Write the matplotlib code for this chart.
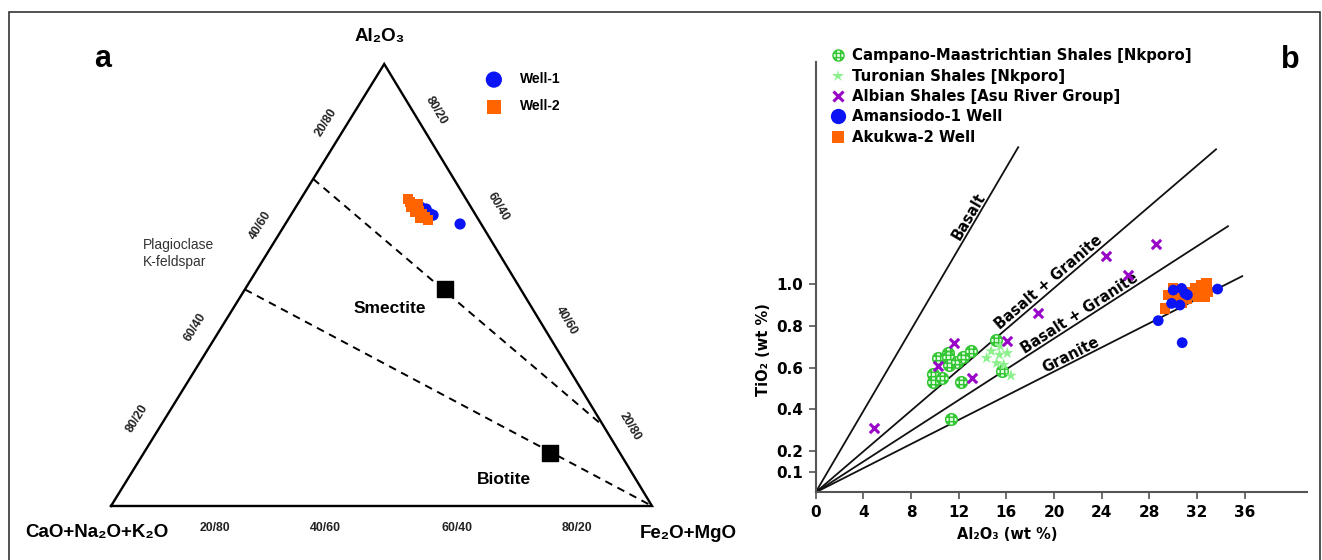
import numpy as np
import matplotlib.pyplot as plt
from matplotlib.lines import Line2D
from matplotlib.path import Path
from matplotlib.patches import Rectangle

plt.rcParams['font.family'] = ['DejaVu Sans']
ARIAL = ['Liberation Sans', 'DejaVu Sans']

# ---------------- panel a: ternary data (wt %) ----------------
# Al2O3 and Fe2O+MgO given, CaO+Na2O+K2O is the rest
well1_al = [65.8, 63.8, 67.2, 67.6, 66.1]
well1_fe = [26.3, 32.3, 24.3, 23.1, 25.6]
well2_al = [69.5, 68.8, 68.1, 67.6, 67.4, 66.7, 66.5, 66.1, 65.4, 64.7, 65.2, 68.3]
well2_fe = [19.8, 20.5, 21.4, 21.3, 22.3, 23.2, 22.6, 24.1, 25.0, 25.9, 24.2, 22.3]

mineral_names = ['Smectite', 'Biotite']
mineral_al = [49, 12]
mineral_fe = [37, 75]

# dashed tie lines (Al2O3, Fe2O+MgO) start -> end
tie_start_al = [74, 49]
tie_start_fe = [0, 0]
tie_end_al = [18, 0]
tie_end_fe = [82, 100]

edge_labels_left = ['20/80', '40/60', '60/40', '80/20']
edge_labels_right = ['80/20', '60/40', '40/60', '20/80']
edge_labels_bottom = ['20/80', '40/60', '60/40', '80/20']

# ---------------- panel b: TiO2 vs Al2O3 ----------------
campano_x = [10.24, 11.08, 11.13, 11.22, 11.83, 12.34, 13.04, 9.88, 9.88, 10.63, 12.17, 15.13, 15.61, 11.36]
campano_y = [0.648, 0.672, 0.650, 0.612, 0.625, 0.652, 0.680, 0.568, 0.532, 0.548, 0.529, 0.733, 0.584, 0.353]
turonian_x = [14.35, 14.74, 15.43, 16.09, 15.79, 15.19, 16.39, 15.49]
turonian_y = [0.646, 0.679, 0.662, 0.670, 0.614, 0.622, 0.562, 0.703]
albian_x = [4.9, 10.30, 11.61, 13.15, 16.03, 18.63, 24.4, 26.2, 28.6]
albian_y = [0.308, 0.608, 0.717, 0.548, 0.728, 0.864, 1.136, 1.047, 1.193]
amansiodo_x = [28.75, 30.76, 33.73, 30.71, 30.99, 30.01, 29.87, 30.57, 31.2]
amansiodo_y = [0.826, 0.720, 0.978, 0.981, 0.957, 0.973, 0.909, 0.901, 0.95]
akukwa_x = [29.31, 29.59, 30.29, 30.71, 31.83, 32.39, 32.81, 32.67, 32.11, 32.39, 32.95, 31.41, 31.13, 30.0, 31.6, 32.2]
akukwa_y = [0.885, 0.949, 0.933, 0.91, 0.981, 0.997, 1.005, 0.941, 0.941, 0.965, 0.965, 0.965, 0.933, 0.98, 0.95, 0.98]

trend_names = ['Basalt', 'Basalt + Granite', 'Basalt + Granite', 'Granite']
trend_x_end = [17.0, 33.6, 34.6, 35.8]
trend_y_end = [1.66, 1.65, 1.28, 1.04]
trend_label_x = [13.4, 20.0, 22.5, 21.7]

x_ticks = [0, 4, 8, 12, 16, 20, 24, 28, 32, 36]
y_ticks = [0.1, 0.2, 0.4, 0.6, 0.8, 1.0]

C_CAMP = '#33c633'
C_TUR = '#8cf08c'
C_ALB = '#9a06c8'
C_BLUE = '#0a14f5'
C_ORANGE = '#ff6400'

APEX_X = 0.505  # horizontal position of the Al2O3 apex


def tern(al, fe):
    al = np.asarray(al) / 100.0
    fe = np.asarray(fe) / 100.0
    return fe + APEX_X * al, al


fig = plt.figure(figsize=(13.22, 5.6), dpi=100)

# ================= panel a =================
ax = fig.add_axes([0, 0, 760 / 1322, 1])
ax.set_xlim(-0.2052, 1.1996)
ax.set_ylim(-0.1222, 1.1448)
ax.axis('off')

ax.plot([0, 1, APEX_X, 0], [0, 0, 1, 0], color='black', lw=1.7, solid_joinstyle='miter')

for i in range(len(tie_start_al)):
    xs, ys = tern([tie_start_al[i], tie_end_al[i]], [tie_start_fe[i], tie_end_fe[i]])
    ax.plot(xs, ys, color='black', lw=1.4, ls=(0, (4, 3)))

mx, my = tern(mineral_al, mineral_fe)
ax.scatter(mx, my, marker='s', s=125, color='black', zorder=4)

wx, wy = tern(well1_al, well1_fe)
h1 = ax.scatter(wx, wy, marker='o', s=65, color=C_BLUE, edgecolors='none', zorder=5, label='Well-1')
wx, wy = tern(well2_al, well2_fe)
h2 = ax.scatter(wx, wy, marker='s', s=48, color=C_ORANGE, edgecolors='none', zorder=6, label='Well-2')

ax.legend(handles=[h1, h2], loc='upper left', bbox_to_anchor=(0.682, 0.997),
          bbox_transform=ax.transData, frameon=False, borderpad=0, markerscale=1.45,
          handlelength=1.0, handletextpad=1.4, labelspacing=0.95,
          prop={'family': ARIAL, 'weight': 'bold', 'size': 10})

ax.text(0.497, 1.063, 'Al₂O₃', ha='center', va='center', fontsize=13.5, fontweight='bold', family=ARIAL)
ax.text(-0.026, -0.059, 'CaO+Na₂O+K₂O', ha='center', va='center', fontsize=13.5, fontweight='bold', family=ARIAL)
ax.text(1.067, -0.063, 'Fe₂O+MgO', ha='center', va='center', fontsize=13.5, fontweight='bold', family=ARIAL)
ax.text(-0.015, 1.011, 'a', ha='center', va='center', fontsize=22, fontweight='bold', family=ARIAL)

ax.text(0.059, 0.572, 'Plagioclase\nK-feldspar', ha='left', va='center', fontsize=10,
        color='#333333', family=ARIAL, linespacing=1.25)
ax.text(0.516, 0.446, mineral_names[0], ha='center', va='center', fontsize=12.5, fontweight='bold', family=ARIAL)
ax.text(0.726, 0.059, mineral_names[1], ha='center', va='center', fontsize=12.5, fontweight='bold', family=ARIAL)

tick_kw = dict(ha='center', va='center', fontsize=8.8, fontweight='bold', color='#222222', family=ARIAL)
for lab, px, py in zip(edge_labels_left, [0.397, 0.277, 0.155, 0.048], [0.867, 0.636, 0.405, 0.197]):
    ax.text(px, py, lab, rotation=58, **tick_kw)
for lab, px, py in zip(edge_labels_right, [0.601, 0.715, 0.841, 0.959], [0.894, 0.676, 0.419, 0.179]):
    ax.text(px, py, lab, rotation=-59, **tick_kw)
for lab, px in zip(edge_labels_bottom, [0.192, 0.396, 0.640, 0.861]):
    ax.text(px, -0.05, lab, **tick_kw)

# ================= panel b =================
bx = fig.add_axes([815.6 / 1322, 67.6 / 560, 491 / 1322, 430.4 / 560])
bx.set_xlim(0, 41.2)
bx.set_ylim(0, 2.07)
for side in ('top', 'right'):
    bx.spines[side].set_visible(False)
for side in ('left', 'bottom'):
    bx.spines[side].set_color('#555555')
    bx.spines[side].set_linewidth(1.5)

for name, xe, ye, xl in zip(trend_names, trend_x_end, trend_y_end, trend_label_x):
    bx.plot([0, xe], [0, ye], color='#111111', lw=1.3, zorder=1)
    ang = np.degrees(np.arctan2(ye, xe))
    bx.text(xl, xl * ye / xe, name, rotation=ang, transform_rotates_text=True,
            rotation_mode='anchor', ha='center', va='bottom', fontsize=10.5, fontweight='bold')

# circle with a grid inside, used for the Campano-Maastrichtian shales
theta = np.linspace(0, 2 * np.pi, 41)
verts = list(zip(np.cos(theta), np.sin(theta)))
codes = [Path.MOVETO] + [Path.LINETO] * (len(verts) - 2) + [Path.CLOSEPOLY]
for k in (-0.38, 0.38):
    h = np.sqrt(1 - k * k)
    verts += [(k, -h), (k, h), (-h, k), (h, k)]
    codes += [Path.MOVETO, Path.LINETO, Path.MOVETO, Path.LINETO]
grid_circle = Path(verts, codes)

bx.scatter(campano_x, campano_y, marker=grid_circle, s=70, facecolors='#eafbea',
           edgecolors=C_CAMP, linewidths=1.1, zorder=3)
bx.scatter(turonian_x, turonian_y, marker='*', s=80, color=C_TUR, edgecolors='none', zorder=3)
bx.scatter(albian_x, albian_y, marker='x', s=45, color=C_ALB, linewidths=2.2, zorder=3)
bx.scatter(akukwa_x, akukwa_y, marker='s', s=55, color=C_ORANGE, edgecolors='none', zorder=4)
bx.scatter(amansiodo_x, amansiodo_y, marker='o', s=60, color=C_BLUE, edgecolors='none', zorder=5)

handles = [
    Line2D([], [], ls='none', marker=grid_circle, markersize=8, markerfacecolor='#eafbea',
           markeredgecolor=C_CAMP, markeredgewidth=1.0),
    Line2D([], [], ls='none', marker='*', markersize=9, color=C_TUR, markeredgewidth=0),
    Line2D([], [], ls='none', marker='x', markersize=6.5, color=C_ALB, markeredgewidth=2.2),
    Line2D([], [], ls='none', marker='o', markersize=11, color=C_BLUE, markeredgewidth=0),
    Line2D([], [], ls='none', marker='s', markersize=9, color=C_ORANGE, markeredgewidth=0),
]
labels = ['Campano-Maastrichtian Shales [Nkporo]', 'Turonian Shales [Nkporo]',
          'Albian Shales [Asu River Group]', 'Amansiodo-1 Well', 'Akukwa-2 Well']
bx.legend(handles, labels, loc='upper left', bbox_to_anchor=(823 / 1322, 1 - 41 / 560),
          bbox_transform=fig.transFigure, frameon=False, borderpad=0, handlelength=1.0,
          handletextpad=0.45, labelspacing=0.36, prop={'weight': 'bold', 'size': 10.7})

bx.set_xticks(x_ticks)
bx.set_yticks(y_ticks)
bx.set_yticklabels([f'{v:.1f}' for v in y_ticks])
bx.tick_params(direction='out', length=5, width=1.2, color='#555555', labelsize=11, pad=4)
for lbl in bx.get_xticklabels() + bx.get_yticklabels():
    lbl.set_fontweight('bold')

bx.set_xlabel('Al₂O₃ (wt %)', fontsize=10.5, fontweight='bold')
bx.set_ylabel('TiO₂ (wt %)', fontsize=10.5, fontweight='bold')
bx.xaxis.set_label_coords(0.39, -0.080)
bx.yaxis.set_label_coords(-0.091, 0.331)

fig.text(1290 / 1322, 1 - 60 / 560, 'b', ha='center', va='center', fontsize=22,
         fontweight='bold', family=ARIAL)

# outer frame around both panels
fig.add_artist(Rectangle((9 / 1322, -0.05), (1320 - 9) / 1322, 1 - 12 / 560 + 0.05,
                         transform=fig.transFigure, fill=False, lw=1.2, edgecolor='#333333'))

fig.savefig('out.png', dpi=100)
